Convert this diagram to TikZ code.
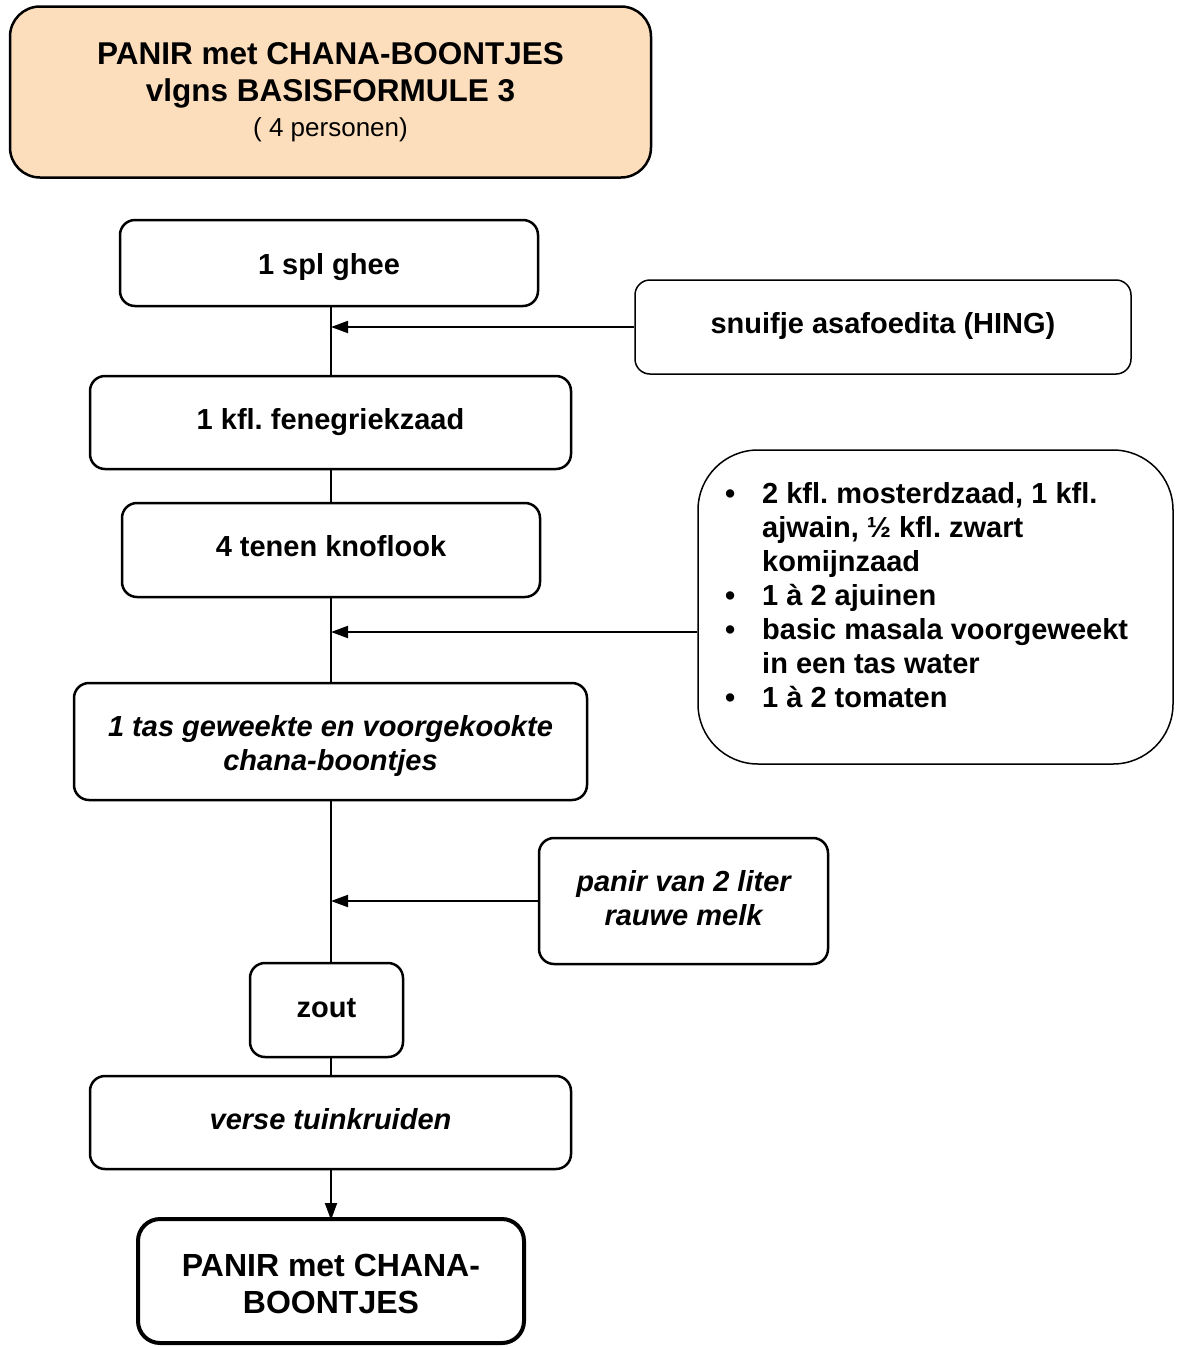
\documentclass[tikz,border=0pt]{standalone}
\usepackage{fontspec}
\setmainfont{Liberation Sans}
\frenchspacing
\usetikzlibrary{arrows.meta}
\definecolor{peach}{RGB}{252,221,188}
\newcommand{\mv}[2]{\raisebox{#1}[\height][\depth]{#2}}
\tikzset{
  box/.style={draw, line width=2.5pt, rounded corners=15pt, fill=white, align=center,
    inner sep=0pt, font=\bfseries\fontsize{29}{34}\selectfont},
  thinbox/.style={box, line width=1.5pt},
  flow/.style={line width=2pt},
  arr/.style={line width=2pt, -{Triangle[length=17pt,width=12pt]}},
}
\begin{document}
\begin{tikzpicture}[x=1pt,y=-1pt]
\useasboundingbox (0,0) rectangle (1179,1347);
\coordinate (spine) at (331,0);

\node[box, rounded corners=30pt, fill=peach, minimum width=641pt, minimum height=171pt,
  font=\bfseries\fontsize{31.5}{37}\selectfont] (title) at (330.5,92)
  {PANIR met CHANA-BOONTJES\\vlgns BASISFORMULE 3\\[-2pt]{\mdseries\fontsize{26}{35}\selectfont ( 4 personen)}};

\node[box, minimum width=418pt, minimum height=86pt] (ghee) at (329,263) {\mv{-4pt}{1 spl ghee}};
\node[thinbox, minimum width=496pt, minimum height=94pt] (asa) at (883,327) {\mv{1pt}{snuifje asafoedita (HING)}};
\node[box, minimum width=481pt, minimum height=93pt] (feng) at (330.5,422.5) {1 kfl. fenegriekzaad};
\node[box, minimum width=418pt, minimum height=94pt] (knof) at (331,550) {\mv{4pt}{4 tenen knoflook}};
\node[thinbox, rounded corners=60pt, minimum width=475pt, minimum height=314pt] (list) at (935.5,607) {};
\node[anchor=north west, inner sep=0pt, align=left, font=\bfseries\fontsize{29}{34}\selectfont] (listtext) at (725,479)
  {\begin{tabular}{@{}p{37pt}@{}l@{}}
   • & 2 kfl. mosterdzaad, 1 kfl.\\
     & ajwain, ½ kfl. zwart\\
     & komijnzaad\\
   • & 1 à 2 ajuinen\\
   • & basic masala voorgeweekt\\
     & in een tas water\\
   • & 1 à 2 tomaten
   \end{tabular}};
\node[box, minimum width=513pt, minimum height=117pt, font=\bfseries\itshape\fontsize{29}{34}\selectfont] (chana) at (330.5,741.5)
  {\mv{-4pt}{1 tas geweekte en voorgekookte}\\\mv{-4pt}{chana-boontjes}};
\node[box, minimum width=289pt, minimum height=126pt, font=\bfseries\itshape\fontsize{29}{34}\selectfont] (panir) at (683.5,901)
  {\mv{3pt}{panir van 2 liter}\\\mv{3pt}{rauwe melk}};
\node[box, minimum width=153pt, minimum height=94pt] (zout) at (326.5,1010) {\mv{2pt}{zout}};
\node[box, minimum width=481pt, minimum height=93pt, font=\bfseries\itshape\fontsize{29}{34}\selectfont] (verse) at (330.5,1122.5) {\mv{3pt}{verse tuinkruiden}};
\node[box, line width=4pt, rounded corners=22pt, minimum width=386pt, minimum height=124pt,
  font=\bfseries\fontsize{32}{37}\selectfont] (final) at (331,1281) {\mv{-3pt}{PANIR met CHANA-}\\\mv{-3pt}{BOONTJES}};

\draw[flow] (ghee.south -| spine) -- (feng.north -| spine);
\draw[flow] (feng.south -| spine) -- (knof.north -| spine);
\draw[flow] (knof.south -| spine) -- (chana.north -| spine);
\draw[flow] (chana.south -| spine) -- (zout.north -| spine);
\draw[flow] (zout.south -| spine) -- (verse.north -| spine);
\draw[arr] (verse.south -| spine) -- ([yshift=-3pt]final.north -| spine);

\draw[arr] (asa.west) -- (asa.west -| spine);
\draw[arr] (list.west |- 0,632) -- (spine |- 0,632);
\draw[arr] (panir.west) -- (panir.west -| spine);
\end{tikzpicture}
\end{document}
